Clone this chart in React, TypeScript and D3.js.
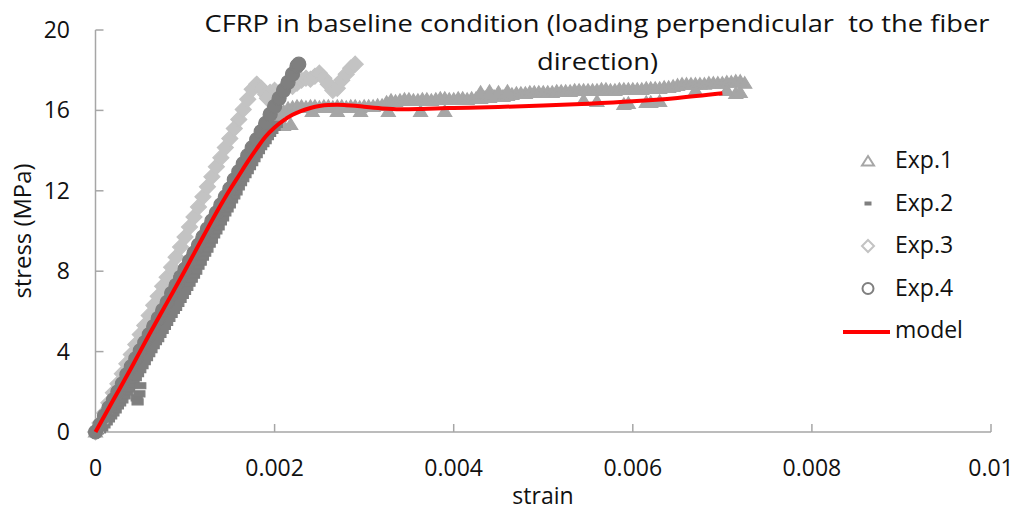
import React from 'react';
import * as d3 from 'd3';

type Pt = [number, number];

// Exp.1: loading branch then a long plateau
const exp1: Pt[] = [
  [0, 0], [0.00005, 0.4], [0.0001, 0.85], [0.00015, 1.25], [0.0002, 1.7], [0.00025, 2.1], [0.0003, 2.5],
  [0.00035, 2.95], [0.0004, 3.35], [0.00045, 3.75], [0.0005, 4.2], [0.00055, 4.6], [0.0006, 5.0],
  [0.00065, 5.45], [0.0007, 5.85], [0.00075, 6.25], [0.0008, 6.7], [0.00085, 7.1], [0.0009, 7.5],
  [0.00095, 7.9], [0.001, 8.3], [0.00105, 8.7], [0.0011, 9.1], [0.00115, 9.5], [0.0012, 9.9],
  [0.00125, 10.3], [0.0013, 10.7], [0.00135, 11.1], [0.0014, 11.5], [0.00145, 11.9], [0.0015, 12.25],
  [0.00155, 12.6], [0.0016, 12.95], [0.00165, 13.3], [0.0017, 13.6], [0.00175, 13.9], [0.0018, 14.2],
  [0.00185, 14.5], [0.0019, 14.8], [0.00195, 15.1], [0.002, 15.4], [0.0021, 15.25], [0.00218, 15.3],
  [0.00205, 15.7], [0.0021, 15.95], [0.00215, 16.1],
  [0.0022, 16.15], [0.00225, 16.2], [0.0023, 16.2], [0.00235, 16.15], [0.0024, 16.2], [0.00245, 16.2],
  [0.0025, 16.15], [0.00255, 16.2], [0.0026, 16.2], [0.00265, 16.15], [0.0027, 16.2], [0.00275, 16.2],
  [0.0028, 16.15], [0.00285, 16.2], [0.0029, 16.2], [0.00295, 16.15], [0.003, 16.2], [0.00305, 16.2],
  [0.0031, 16.2], [0.00315, 16.25], [0.0032, 16.25], [0.00325, 16.4], [0.0033, 16.5], [0.00335, 16.45],
  [0.0034, 16.5], [0.00345, 16.55], [0.0035, 16.55], [0.00355, 16.5], [0.0036, 16.5], [0.00365, 16.55],
  [0.0037, 16.55], [0.00375, 16.5], [0.0038, 16.55], [0.00385, 16.6], [0.0039, 16.6], [0.00395, 16.55],
  [0.004, 16.55], [0.00405, 16.6], [0.0041, 16.6], [0.00415, 16.55], [0.0042, 16.6], [0.00425, 16.6],
  [0.0043, 16.6], [0.00435, 16.65], [0.0044, 16.65], [0.00445, 16.7], [0.0045, 16.7], [0.00455, 16.7],
  [0.0046, 16.75], [0.00465, 16.8], [0.0047, 16.85], [0.00475, 16.85], [0.0048, 16.85], [0.00485, 16.9],
  [0.0049, 16.9], [0.00495, 16.9], [0.005, 16.9], [0.00505, 16.9], [0.0051, 16.9], [0.00515, 16.95],
  [0.0052, 16.95], [0.00525, 16.95], [0.0053, 16.95], [0.00535, 17.0], [0.0054, 17.0], [0.00545, 17.0],
  [0.0055, 17.0], [0.00555, 17.0], [0.0056, 17.0], [0.00565, 17.05], [0.0057, 17.05], [0.00575, 17.0],
  [0.0058, 17.0], [0.00585, 17.05], [0.0059, 17.05], [0.00595, 17.05], [0.006, 17.05], [0.00605, 17.05],
  [0.0061, 17.05], [0.00615, 17.1], [0.0062, 17.1], [0.00625, 17.1], [0.0063, 17.1], [0.00635, 17.15],
  [0.0064, 17.15], [0.00645, 17.2], [0.0065, 17.25], [0.00655, 17.3], [0.0066, 17.3], [0.00665, 17.3],
  [0.0067, 17.3], [0.00675, 17.3], [0.0068, 17.3], [0.00685, 17.35], [0.0069, 17.35], [0.00695, 17.35],
  [0.007, 17.35], [0.00705, 17.4], [0.0071, 17.4], [0.00715, 17.45], [0.0072, 17.45], [0.00725, 17.35],
  [0.00242, 15.95], [0.0027, 15.95], [0.00296, 15.95], [0.00327, 15.95], [0.00363, 15.95], [0.0039, 15.95],
  [0.0043, 16.9], [0.0044, 16.95], [0.0045, 16.9], [0.0046, 16.95],
  [0.00545, 16.5], [0.0056, 16.45], [0.0059, 16.3], [0.00595, 16.35], [0.00615, 16.4], [0.0062, 16.4],
  [0.0063, 16.45], [0.0067, 17.0], [0.00705, 17.0], [0.00715, 16.85], [0.0072, 16.9],
];

// Exp.2: softer start with a small drop near 2 MPa
const exp2: Pt[] = [
  [0, 0], [0.000025, 0.05], [0.00005, 0.1], [0.000075, 0.2], [0.0001, 0.35], [0.000125, 0.5],
  [0.00015, 0.65], [0.000175, 0.8], [0.0002, 0.95], [0.000225, 1.1], [0.00025, 1.3], [0.000275, 1.45],
  [0.0003, 1.6], [0.000325, 1.8], [0.00035, 2.0], [0.000375, 2.15], [0.0004, 2.35], [0.000425, 2.55],
  [0.00045, 2.7], [0.00046, 1.7], [0.00047, 1.5], [0.00049, 1.9], [0.0005, 2.3], [0.000475, 2.9],
  [0.0005, 3.1], [0.000525, 3.3], [0.00055, 3.5], [0.000575, 3.7], [0.0006, 3.9], [0.000625, 4.1],
  [0.00065, 4.3], [0.000675, 4.5], [0.0007, 4.65], [0.000725, 4.85], [0.00075, 5.05], [0.000775, 5.25],
  [0.0008, 5.45], [0.000825, 5.65], [0.00085, 5.85], [0.000875, 6.05], [0.0009, 6.2], [0.000925, 6.4],
  [0.00095, 6.6], [0.000975, 6.8], [0.001, 7.0], [0.001025, 7.2], [0.00105, 7.4], [0.001075, 7.6],
  [0.0011, 7.8], [0.001125, 8.0], [0.00115, 8.25], [0.001175, 8.45], [0.0012, 8.7], [0.001225, 8.9],
  [0.00125, 9.1], [0.001275, 9.35], [0.0013, 9.55], [0.001325, 9.8], [0.00135, 10.0], [0.001375, 10.2],
  [0.0014, 10.45], [0.001425, 10.65], [0.00145, 10.9], [0.001475, 11.1], [0.0015, 11.3], [0.001525, 11.55],
  [0.00155, 11.75], [0.001575, 11.95], [0.0016, 12.2], [0.001625, 12.4], [0.00165, 12.6], [0.001675, 12.8],
  [0.0017, 13.0], [0.001725, 13.2], [0.00175, 13.4], [0.001775, 13.6], [0.0018, 13.8], [0.001825, 14.0],
  [0.00185, 14.2], [0.001875, 14.35], [0.0019, 14.5], [0.001925, 14.7], [0.00195, 14.85], [0.001975, 15.0],
  [0.002, 15.15], [0.002025, 15.3],
];

// Exp.3: stiffest specimen, peak then a jagged rise
const exp3: Pt[] = [
  [0, 0], [0.00005, 0.45], [0.0001, 0.95], [0.00015, 1.45], [0.0002, 1.95], [0.00025, 2.4], [0.0003, 2.9],
  [0.00035, 3.4], [0.0004, 3.85], [0.00045, 4.35], [0.0005, 4.85], [0.00055, 5.3], [0.0006, 5.8],
  [0.00065, 6.3], [0.0007, 6.75], [0.00075, 7.25], [0.0008, 7.7], [0.00085, 8.2], [0.0009, 8.7],
  [0.00095, 9.2], [0.001, 9.7], [0.00105, 10.2], [0.0011, 10.7], [0.00115, 11.2], [0.0012, 11.7],
  [0.00125, 12.2], [0.0013, 12.7], [0.00135, 13.2], [0.0014, 13.65], [0.00145, 14.15], [0.0015, 14.6],
  [0.00155, 15.1], [0.0016, 15.55], [0.00165, 16.05], [0.0017, 16.55], [0.00175, 17.05], [0.0018, 17.3],
  [0.00185, 17.1], [0.0019, 16.8], [0.00192, 16.6], [0.00195, 16.9], [0.002, 17.0], [0.0021, 17.1],
  [0.0022, 17.2], [0.00225, 17.35], [0.0023, 17.5], [0.00235, 17.6], [0.0024, 17.55], [0.00245, 17.7],
  [0.0025, 17.85], [0.00255, 17.6], [0.0026, 17.3], [0.00265, 17.0], [0.0027, 17.1], [0.00275, 17.5],
  [0.0028, 17.8], [0.00285, 18.1], [0.0029, 18.3],
];

// Exp.4: steep linear branch up to failure
const exp4: Pt[] = [
  [0, 0], [0.00005, 0.35], [0.0001, 0.8], [0.00015, 1.2], [0.0002, 1.6], [0.00025, 2.0], [0.0003, 2.4],
  [0.00035, 2.85], [0.0004, 3.25], [0.00045, 3.65], [0.0005, 4.05], [0.00055, 4.45], [0.0006, 4.85],
  [0.00065, 5.25], [0.0007, 5.65], [0.00075, 6.05], [0.0008, 6.45], [0.00085, 6.9], [0.0009, 7.3],
  [0.00095, 7.7], [0.001, 8.1], [0.00105, 8.5], [0.0011, 8.9], [0.00115, 9.3], [0.0012, 9.7],
  [0.00125, 10.1], [0.0013, 10.5], [0.00135, 10.9], [0.0014, 11.3], [0.00145, 11.7], [0.0015, 12.1],
  [0.00155, 12.55], [0.0016, 12.95], [0.00165, 13.35], [0.0017, 13.75], [0.00175, 14.15], [0.0018, 14.55],
  [0.00185, 14.95], [0.0019, 15.35], [0.00195, 15.8], [0.002, 16.2], [0.00205, 16.6], [0.0021, 17.0],
  [0.00215, 17.4], [0.0022, 17.8], [0.00225, 18.2], [0.00227, 18.3],
];

// Model prediction
const model: Pt[] = [
  [0, 0], [0.0002, 1.6], [0.0004, 3.2], [0.0006, 4.85], [0.0008, 6.45], [0.001, 8.05], [0.0012, 9.7],
  [0.0014, 11.3], [0.0015, 12.05], [0.0016, 12.75], [0.0017, 13.45], [0.0018, 14.1], [0.0019, 14.7],
  [0.002, 15.15], [0.0021, 15.5], [0.0022, 15.78], [0.0023, 15.98], [0.0024, 16.12], [0.0025, 16.22],
  [0.0026, 16.27], [0.0027, 16.28], [0.0028, 16.26], [0.0029, 16.23], [0.003, 16.18], [0.0032, 16.1],
  [0.0034, 16.06], [0.0036, 16.07], [0.0038, 16.1], [0.004, 16.12], [0.0045, 16.17], [0.005, 16.24],
  [0.0055, 16.33], [0.006, 16.45], [0.0065, 16.62], [0.007, 16.85],
];

const xTicks = [0, 0.002, 0.004, 0.006, 0.008, 0.01];
const xTickLabels = ['0', '0.002', '0.004', '0.006', '0.008', '0.01'];
const yTicks = [0, 4, 8, 12, 16, 20];
const yTickLabels = ['0', '4', '8', '12', '16', '20'];
const titleLines = ['CFRP in baseline condition (loading perpendicular  to the fiber', 'direction)'];
const seriesNames = ['Exp.1', 'Exp.2', 'Exp.3', 'Exp.4', 'model'];

const W = 1021;
const H = 513;
const FONT = '"Open Sans", Lato, sans-serif';
const AXIS = '#a6a6a6';
const TEXT = '#111';

const colors = ['#a6a6a6', '#7f7f7f', '#c3c3c3', '#7f7f7f'];

const x = d3.scaleLinear().domain([0, 0.01]).range([95.5, 991]);
const y = d3.scaleLinear().domain([0, 20]).range([432, 30]);

const markerPath = {
  triangle: 'M0,-6.5L7,5L-7,5Z',
  dash: 'M-5.5,-3H5.5V3H-5.5Z',
  diamond: 'M0,-8L8,0L0,8L-8,0Z',
  circle: 'M7,0A7,7 0 1 1 -7,0A7,7 0 1 1 7,0Z',
};

const legendPath = {
  triangle: 'M0,-5L6,4.5L-6,4.5Z',
  dash: 'M-3.5,-2H3.5V2H-3.5Z',
  diamond: 'M0,-6L6,0L0,6L-6,0Z',
  circle: 'M5.5,0A5.5,5.5 0 1 1 -5.5,0A5.5,5.5 0 1 1 5.5,0Z',
};

const series = [
  { data: exp1, shape: 'triangle' as const, color: colors[0] },
  { data: exp2, shape: 'dash' as const, color: colors[1] },
  { data: exp3, shape: 'diamond' as const, color: colors[2] },
  { data: exp4, shape: 'circle' as const, color: colors[3] },
];

const modelLine = d3
  .line<Pt>()
  .x((d) => x(d[0]))
  .y((d) => y(d[1]))
  .curve(d3.curveMonotoneX);

export default function App() {
  const legendBaselines = [168, 210.5, 253, 295.5, 338];
  return (
    <svg
      width={W}
      height={H}
      style={{ position: 'absolute', left: 0, top: 0, background: '#fff' }}
      fontFamily={FONT}
    >
      {/* axes */}
      <line x1={x(0)} x2={x(0)} y1={y(20)} y2={y(0)} stroke={AXIS} strokeWidth={1.5} />
      <line x1={x(0)} x2={x(0.01)} y1={y(0)} y2={y(0)} stroke={AXIS} strokeWidth={1.5} />
      {yTicks.map((t, i) => (
        <g key={'y' + t}>
          <line x1={x(0)} x2={x(0) + 8} y1={y(t)} y2={y(t)} stroke={AXIS} strokeWidth={1.5} />
          <text x={70} y={y(t) + 8} textAnchor="end" fontSize={23} fill={TEXT}>
            {yTickLabels[i]}
          </text>
        </g>
      ))}
      {xTicks.map((t, i) => (
        <g key={'x' + t}>
          <line x1={x(t)} x2={x(t)} y1={y(0)} y2={y(0) - 8} stroke={AXIS} strokeWidth={1.5} />
          <text x={x(t)} y={476} textAnchor="middle" fontSize={23} fill={TEXT}>
            {xTickLabels[i]}
          </text>
        </g>
      ))}

      {/* axis titles */}
      <text x={543} y={504} textAnchor="middle" fontSize={23} fill={TEXT}>
        strain
      </text>
      <text
        transform={`translate(31,231) rotate(-90)`}
        textAnchor="middle"
        fontSize={23}
        fill={TEXT}
        textLength={135}
        lengthAdjust="spacingAndGlyphs"
      >
        stress (MPa)
      </text>

      {/* chart title */}
      <text
        x={597}
        y={32}
        textAnchor="middle"
        fontSize={24}
        fill={TEXT}
        style={{ whiteSpace: 'pre' }}
        textLength={785}
        lengthAdjust="spacingAndGlyphs"
      >
        {titleLines[0]}
      </text>
      <text
        x={597.5}
        y={70}
        textAnchor="middle"
        fontSize={24}
        fill={TEXT}
        textLength={121}
        lengthAdjust="spacingAndGlyphs"
      >
        {titleLines[1]}
      </text>

      {/* experimental data */}
      {series.map((s, si) => (
        <g key={'s' + si}>
          {s.data.map((d, i) => (
            <path
              key={i}
              d={markerPath[s.shape]}
              transform={`translate(${x(d[0])},${y(d[1])})`}
              fill={s.color}
              stroke={s.color}
              strokeWidth={1.2}
            />
          ))}
        </g>
      ))}

      {/* model */}
      <path d={modelLine(model) || ''} fill="none" stroke="#ff0000" strokeWidth={4} />

      {/* legend */}
      {series.map((s, i) => (
        <g key={'l' + i}>
          <path
            d={legendPath[s.shape]}
            transform={`translate(868,${legendBaselines[i] - 7})`}
            fill={s.shape === 'dash' ? s.color : 'none'}
            stroke={s.color}
            strokeWidth={s.shape === 'dash' ? 0 : 2}
          />
          <text x={895} y={legendBaselines[i]} fontSize={23} fill={TEXT}>
            {seriesNames[i]}
          </text>
        </g>
      ))}
      <line x1={843} x2={890} y1={332} y2={332} stroke="#ff0000" strokeWidth={4} />
      <text x={895} y={legendBaselines[4]} fontSize={23} fill={TEXT}>
        {seriesNames[4]}
      </text>
    </svg>
  );
}
